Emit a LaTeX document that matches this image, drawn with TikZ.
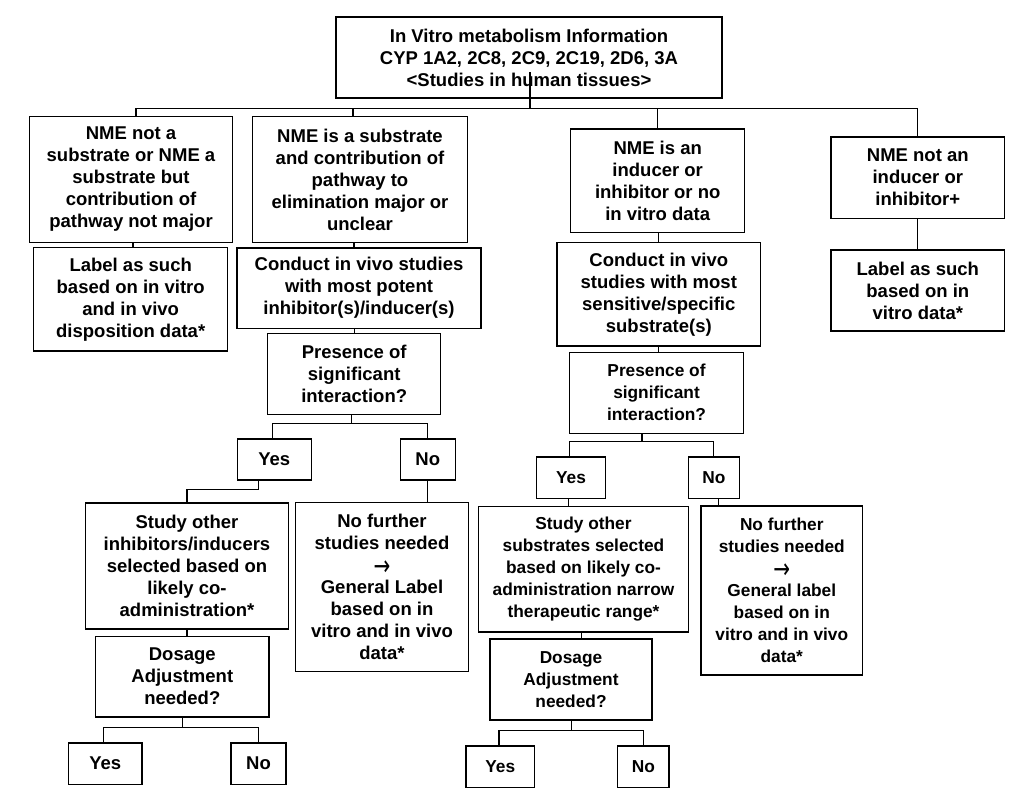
\documentclass[tikz,border=0pt]{standalone}
\usepackage{fontspec}
\setmainfont{Liberation Sans}
\newfontfamily\arrowfont{DejaVu Sans}
\newcommand\rarr{\smash{\raisebox{-3.5pt}{\scalebox{1}[1.4]{\arrowfont\mdseries\fontsize{20}{22}\selectfont\char"2192}}}}
\begin{document}
\begin{tikzpicture}[x=1pt,y=1pt,
  box/.style={draw=black, line width=1.4pt, align=center, inner sep=0pt,
    font={\bfseries\fontsize{18.5}{22}\selectfont}},
  boxs/.style={box, font={\bfseries\fontsize{17.3}{22}\selectfont}},
  conn/.style={line width=1.1pt}]
\fill[white] (0,0) rectangle (1021,-803);
\useasboundingbox (0,0) rectangle (1021,-803);

% top
\node[box, minimum width=386pt, minimum height=81pt] (top) at (529,-57.5)
  {In Vitro metabolism Information\\CYP 1A2, 2C8, 2C9, 2C19, 2D6, 3A\\<Studies in human tissues>};

% first row
\node[box, minimum width=203.4pt, minimum height=125.6pt] (b1) at (131,-179.5)
  {NME not a\\substrate or NME a\\substrate but\\contribution of\\pathway not major};
\node[box, minimum width=214.6pt, minimum height=125.6pt] (b2) at (360,-179.5)
  {NME is a substrate\\and contribution of\\pathway to\\elimination major or\\unclear};
\node[box, minimum width=174pt, minimum height=103.3pt] (b3) at (657.7,-180.7)
  {NME is an\\inducer or\\inhibitor or no\\in vitro data};
\node[box, minimum width=173.7pt, minimum height=81.3pt] (b4) at (917.8,-177.7)
  {NME not an\\inducer or\\inhibitor+};

% second row
\node[box, minimum width=194pt, minimum height=103.3pt] (b1b) at (130.7,-299.3)
  {Label as such\\based on in vitro\\and in vivo\\disposition data*};
\node[box, minimum width=244pt, minimum height=80.3pt] (b2b) at (359,-288.2)
  {Conduct in vivo studies\\with most potent\\inhibitor(s)/inducer(s)};
\node[box, minimum width=173pt, minimum height=81pt] (b2c) at (354.2,-374.2)
  {Presence of\\significant\\interaction?};
\node[box, minimum width=203.7pt, minimum height=103.3pt] (b3b) at (658.8,-294.3)
  {Conduct in vivo\\studies with most\\sensitive/specific\\substrate(s)};
\node[boxs, minimum width=173.6pt, minimum height=81pt] (b3c) at (656.5,-392.8)
  {Presence of\\significant\\interaction?};
\node[box, minimum width=173.7pt, minimum height=81pt] (b4b) at (917.8,-290.5)
  {Label as such\\based on in\\vitro data*};

% left lower
\node[box, minimum width=74pt, minimum height=41pt] (lyes1) at (274.3,-459.5) {Yes};
\node[box, minimum width=55pt, minimum height=41pt] (lno1) at (427.8,-459.5) {No};
\node[box, minimum width=203.4pt, minimum height=126pt] (lstudy) at (187,-566)
  {Study other\\inhibitors/inducers\\selected based on\\likely co-\\administration*};
\node[box, minimum width=173.4pt, minimum height=169pt] (lnof) at (382,-587.2)
  {No further\\studies needed\\\rarr\\General Label\\based on in\\vitro and in vivo\\data*};
\node[box, minimum width=173.3pt, minimum height=80.7pt] (ldos) at (182.3,-676.7)
  {Dosage\\Adjustment\\needed?};
\node[box, minimum width=73.7pt, minimum height=41.3pt] (lyes2) at (105.2,-763.7) {Yes};
\node[box, minimum width=55pt, minimum height=41.3pt] (lno2) at (258.5,-763.7) {No};

% right lower
\node[boxs, minimum width=68.6pt, minimum height=41.7pt] (ryes1) at (571,-477.8) {Yes};
\node[boxs, minimum width=51pt, minimum height=41.7pt] (rno1) at (713.8,-477.8) {No};
\node[boxs, minimum width=210.4pt, minimum height=125.3pt] (rstudy) at (583.5,-569.3)
  {Study other\\substrates selected\\based on likely co-\\administration narrow\\therapeutic range*};
\node[boxs, minimum width=161.7pt, minimum height=169pt] (rnof) at (781.8,-590.5)
  {No further\\studies needed\\\rarr\\General label\\based on in\\vitro and in vivo\\data*};
\node[boxs, minimum width=162pt, minimum height=81pt] (rdos) at (571,-679.5)
  {Dosage\\Adjustment\\needed?};
\node[boxs, minimum width=68.7pt, minimum height=41.7pt] (ryes2) at (500.3,-766.8) {Yes};
\node[boxs, minimum width=51.3pt, minimum height=41.7pt] (rno2) at (643.3,-766.8) {No};

% connectors: top bus
\coordinate (stemtop) at (530,-72);
\coordinate (bus) at (0,-108.3);
\draw[conn] (stemtop) -- (stemtop |- bus);
\draw[conn] ([xshift=5pt]b1.north) -- ([xshift=5pt]b1.north |- bus) -- (b4.north |- bus) -- (b4.north);
\draw[conn] ([xshift=-7pt]b2.north) -- ([xshift=-7pt]b2.north |- bus);
\draw[conn] (b3.north) -- (b3.north |- bus);

% vertical links
\draw[conn] ([xshift=2pt]b1.south) -- ([xshift=2pt]b1.south |- b1b.north);
\draw[conn] ([xshift=-6pt]b2.south) -- ([xshift=-6pt]b2.south |- b2b.north);
\draw[conn] (b2c.north) -- (b2c.north |- b2b.south);
\draw[conn] (b3b.north) -- (b3b.north |- b3.south);
\draw[conn] (b3b.south) -- (b3b.south |- b3c.north);
\draw[conn] (b4.south) -- (b4b.north);

% left branch
\coordinate (lbus) at (0,-423.3);
\draw[conn] ([xshift=-3pt]b2c.south) -- ([xshift=-3pt]b2c.south |- lbus);
\draw[conn] ([xshift=-1.6pt]lyes1.north) |- (lno1.north |- lbus) -- (lno1.north);
\draw[conn] ([xshift=-15.6pt]lyes1.south) -- ++(0,-8.7) -| (lstudy.north);
\draw[conn] (lno1.south) -- (lno1.south |- lnof.north);
\draw[conn] (lstudy.south) -- (lstudy.south |- ldos.north);
\coordinate (lbus2) at (0,-727.7);
\draw[conn] (ldos.south) -- (ldos.south |- lbus2);
\draw[conn] ([xshift=-1.5pt]lyes2.north) |- (lno2.north |- lbus2) -- (lno2.north);

% right branch
\coordinate (rbus) at (0,-441.7);
\draw[conn] ([xshift=-14.5pt]b3c.south) -- ([xshift=-14.5pt]b3c.south |- rbus);
\draw[conn] ([xshift=-1.7pt]ryes1.north) |- (rno1.north |- rbus) -- (rno1.north);
\draw[conn] ([xshift=-2.3pt]ryes1.south) -- ([xshift=-2.3pt]ryes1.south |- rstudy.north);
\draw[conn] ([xshift=4.5pt]rno1.south) -- ([xshift=4.5pt]rno1.south |- rnof.north);
\draw[conn] ([xshift=-2.3pt]rstudy.south) -- ([xshift=-2.3pt]rstudy.south |- rdos.north);
\coordinate (rbus2) at (0,-730.7);
\draw[conn] ([xshift=0.7pt]rdos.south) -- ([xshift=0.7pt]rdos.south |- rbus2);
\draw[conn] ([xshift=-1.3pt]ryes2.north) |- (rno2.north |- rbus2) -- (rno2.north);
\end{tikzpicture}
\end{document}
